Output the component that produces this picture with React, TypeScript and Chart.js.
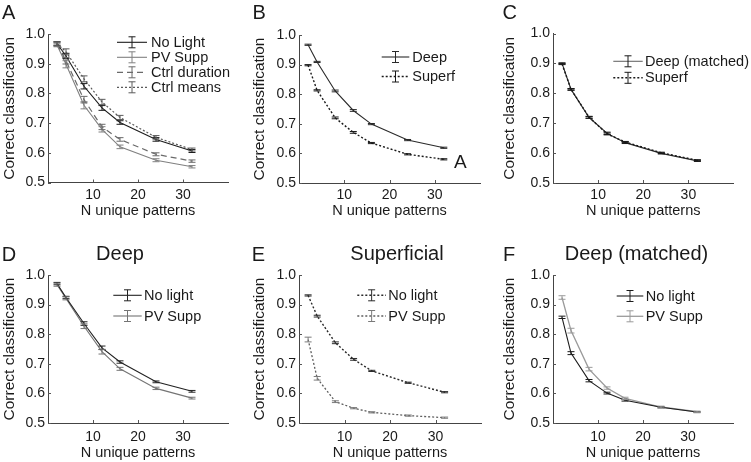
import React, { useEffect, useRef } from 'react';
import { Chart, registerables } from 'chart.js';

Chart.register(...registerables);

const FONT = '"Liberation Sans", Arial, Helvetica, sans-serif';

// ---- shared axes ----
const patterns = [2, 4, 8, 12, 16, 24, 32];
const xTicks = [10, 20, 30];
const yTicks = [0.5, 0.6, 0.7, 0.8, 0.9, 1.0];
const xLabel = 'N unique patterns';
const yLabel = 'Correct classification';

// ---- Panel A ----
const aNoLight = [0.968, 0.926, 0.824, 0.751, 0.702, 0.645, 0.606];
const aNoLightErr = [0.006, 0.009, 0.009, 0.008, 0.006, 0.006, 0.005];
const aPvSupp = [0.963, 0.898, 0.760, 0.679, 0.620, 0.575, 0.553];
const aPvSuppErr = [0.006, 0.012, 0.012, 0.009, 0.006, 0.005, 0.004];
const aCtrlDur = [0.965, 0.910, 0.779, 0.687, 0.645, 0.595, 0.572];
const aCtrlDurErr = [0.006, 0.011, 0.011, 0.009, 0.006, 0.005, 0.004];
const aCtrlMeans = [0.968, 0.940, 0.849, 0.771, 0.719, 0.652, 0.611];
const aCtrlMeansErr = [0.006, 0.010, 0.010, 0.009, 0.007, 0.006, 0.005];

// ---- Panel B ----
const bDeep = [0.967, 0.909, 0.811, 0.745, 0.699, 0.645, 0.619];
const bDeepErr = [0.002, 0.002, 0.003, 0.003, 0.002, 0.002, 0.002];
const bSuperf = [0.898, 0.813, 0.720, 0.671, 0.635, 0.597, 0.580];
const bSuperfErr = [0.002, 0.002, 0.003, 0.003, 0.002, 0.002, 0.002];

// ---- Panel C ----
const cDeepMatched = [0.900, 0.813, 0.719, 0.666, 0.635, 0.599, 0.574];
const cDeepMatchedErr = [0.002, 0.003, 0.003, 0.004, 0.003, 0.002, 0.002];
const cSuperf = [0.898, 0.813, 0.720, 0.664, 0.637, 0.601, 0.576];
const cSuperfErr = [0.002, 0.002, 0.003, 0.003, 0.002, 0.002, 0.002];

// ---- Panel D ----
const dNoLight = [0.971, 0.924, 0.836, 0.754, 0.706, 0.639, 0.607];
const dNoLightErr = [0.004, 0.004, 0.006, 0.006, 0.004, 0.003, 0.003];
const dPvSupp = [0.967, 0.921, 0.827, 0.741, 0.683, 0.617, 0.584];
const dPvSuppErr = [0.005, 0.005, 0.008, 0.008, 0.005, 0.004, 0.003];

// ---- Panel E ----
const eNoLight = [0.931, 0.861, 0.771, 0.715, 0.676, 0.636, 0.604];
const eNoLightErr = [0.002, 0.003, 0.003, 0.003, 0.002, 0.002, 0.002];
const ePvSupp = [0.782, 0.651, 0.572, 0.550, 0.536, 0.525, 0.518];
const ePvSuppErr = [0.008, 0.006, 0.003, 0.002, 0.002, 0.002, 0.002];

// ---- Panel F ----
const fNoLight = [0.857, 0.736, 0.643, 0.601, 0.577, 0.553, 0.537];
const fNoLightErr = [0.004, 0.005, 0.004, 0.003, 0.003, 0.002, 0.002];
const fPvSupp = [0.924, 0.812, 0.682, 0.618, 0.583, 0.554, 0.538];
const fPvSuppErr = [0.006, 0.008, 0.006, 0.004, 0.004, 0.003, 0.002];

type Series = {
  label: string;
  data: number[];
  err: number[];
  color: string;
  errColor?: string;
  legendColor?: string;
  dash: number[];
  width: number;
};

type Extra = { text: string; x: number; y: number; size: number };

type PanelCfg = {
  key: string;
  ox: number;
  oy: number;
  w: number;
  h: number;
  area: [number, number, number, number];
  tickPad: number;
  xTitlePad: number;
  letter: string;
  letterX: number;
  letterY: number;
  title?: string;
  titleX?: number;
  titleY?: number;
  legend: { x1: number; x2: number; tx: number; rows: number[] };
  series: Series[];
  extra?: Extra[];
};

const BLACK = '#1c1c1c';
const GRAY = '#808080';

const panels: PanelCfg[] = [
  {
    key: 'A', ox: 0, oy: 0, w: 250, h: 231,
    area: [48, 34, 228, 182.5], tickPad: 4, xTitlePad: 11.5,
    letter: 'A', letterX: 2, letterY: 18.5,
    legend: { x1: 117, x2: 147, tx: 151, rows: [42.3, 57.3, 72.3, 87.3] },
    series: [
      { label: 'No Light', data: aNoLight, err: aNoLightErr, color: BLACK, dash: [], width: 1.1 },
      { label: 'PV Supp', data: aPvSupp, err: aPvSuppErr, color: GRAY, dash: [], width: 1.1 },
      { label: 'Ctrl duration', data: aCtrlDur, err: aCtrlDurErr, color: '#6a6a6a', dash: [6, 4], width: 1.2 },
      { label: 'Ctrl means', data: aCtrlMeans, err: aCtrlMeansErr, color: '#5a5a5a', dash: [2, 2], width: 1.2 },
    ],
  },
  {
    key: 'B', ox: 250, oy: 0, w: 250, h: 231,
    area: [299, 35, 480, 183], tickPad: 4, xTitlePad: 11.5,
    letter: 'B', letterX: 252.5, letterY: 18.5,
    legend: { x1: 381.7, x2: 409.3, tx: 412.3, rows: [57, 76.5] },
    series: [
      { label: 'Deep', data: bDeep, err: bDeepErr, color: '#2a2a2a', dash: [], width: 1.1 },
      { label: 'Superf', data: bSuperf, err: bSuperfErr, color: '#1a1a1a', dash: [2, 2], width: 1.4 },
    ],
    extra: [{ text: 'A', x: 454, y: 168, size: 19 }],
  },
  {
    key: 'C', ox: 500, oy: 0, w: 251, h: 231,
    area: [553, 33.5, 733.5, 183], tickPad: 4, xTitlePad: 11.5,
    letter: 'C', letterX: 502.5, letterY: 18.5,
    legend: { x1: 613.3, x2: 642.7, tx: 645, rows: [61.3, 77.8] },
    series: [
      { label: 'Superf', data: cSuperf, err: cSuperfErr, color: '#1a1a1a', dash: [2, 2], width: 1.4 },
      { label: 'Deep (matched)', data: cDeepMatched, err: cDeepMatchedErr, color: '#2a2a2a', legendColor: '#6a6a6a', errColor: '#1a1a1a', dash: [], width: 1.1 },
    ],
  },
  {
    key: 'D', ox: 0, oy: 231, w: 250, h: 231,
    area: [48, 275, 228, 423], tickPad: 5.5, xTitlePad: 0.5,
    letter: 'D', letterX: 1.7, letterY: 261,
    title: 'Deep', titleX: 120, titleY: 259.5,
    legend: { x1: 113.3, x2: 141.7, tx: 144, rows: [295.3, 316] },
    series: [
      { label: 'No light', data: dNoLight, err: dNoLightErr, color: '#222222', dash: [], width: 1.1 },
      { label: 'PV Supp', data: dPvSupp, err: dPvSuppErr, color: '#747474', dash: [], width: 1.1 },
    ],
  },
  {
    key: 'E', ox: 250, oy: 231, w: 250, h: 231,
    area: [299, 275, 481, 423], tickPad: 5.5, xTitlePad: 0.5,
    letter: 'E', letterX: 251.7, letterY: 261,
    title: 'Superficial', titleX: 397, titleY: 259.5,
    legend: { x1: 357.3, x2: 386, tx: 388.3, rows: [295.3, 316] },
    series: [
      { label: 'No light', data: eNoLight, err: eNoLightErr, color: '#2a2a2a', dash: [2, 2], width: 1.4 },
      { label: 'PV Supp', data: ePvSupp, err: ePvSuppErr, color: '#5e5e5e', errColor: '#7a7a7a', dash: [2, 2], width: 1.3 },
    ],
  },
  {
    key: 'F', ox: 500, oy: 231, w: 251, h: 231,
    area: [553, 275, 733, 423], tickPad: 5.5, xTitlePad: 0.5,
    letter: 'F', letterX: 503, letterY: 261,
    title: 'Deep (matched)', titleX: 636.5, titleY: 259.5,
    legend: { x1: 616.7, x2: 643.3, tx: 645.7, rows: [296, 316.3] },
    series: [
      { label: 'No light', data: fNoLight, err: fNoLightErr, color: '#1c1c1c', dash: [], width: 1.1 },
      { label: 'PV Supp', data: fPvSupp, err: fPvSuppErr, color: '#9a9a9a', dash: [], width: 1.3 },
    ],
  },
];

function legendOrder(cfg: PanelCfg): Series[] {
  if (cfg.key === 'C') return [cfg.series[1], cfg.series[0]];
  return cfg.series;
}

function Panel({ cfg }: { cfg: PanelCfg }) {
  const ref = useRef<HTMLCanvasElement | null>(null);

  useEffect(() => {
    const canvas = ref.current;
    if (!canvas) return;
    const [l, t, r, b] = cfg.area;
    const lx = (x: number) => x - cfg.ox;
    const ly = (y: number) => y - cfg.oy;

    const deco = {
      id: 'deco' + cfg.key,
      afterDatasetsDraw(chart: any) {
        const ctx = chart.ctx;
        const xs = chart.scales.x;
        const ys = chart.scales.y;
        ctx.save();
        cfg.series.forEach((s) => {
          ctx.strokeStyle = s.errColor || s.color;
          ctx.lineWidth = 1;
          ctx.setLineDash([]);
          patterns.forEach((p, j) => {
            const px = xs.getPixelForValue(p);
            const y1 = ys.getPixelForValue(s.data[j] + s.err[j]);
            const y2 = ys.getPixelForValue(s.data[j] - s.err[j]);
            ctx.beginPath();
            ctx.moveTo(px, y1);
            ctx.lineTo(px, y2);
            ctx.moveTo(px - 3.5, y1);
            ctx.lineTo(px + 3.5, y1);
            ctx.moveTo(px - 3.5, y2);
            ctx.lineTo(px + 3.5, y2);
            ctx.stroke();
          });
        });
        ctx.restore();
      },
      afterDraw(chart: any) {
        const ctx = chart.ctx;
        const xs = chart.scales.x;
        const ys = chart.scales.y;
        const ca = chart.chartArea;
        ctx.save();
        // inward tick marks
        ctx.strokeStyle = '#555';
        ctx.lineWidth = 1;
        ctx.beginPath();
        xTicks.forEach((v) => {
          const px = Math.round(xs.getPixelForValue(v)) + 0.5;
          ctx.moveTo(px, ca.bottom);
          ctx.lineTo(px, ca.bottom - 3);
        });
        yTicks.forEach((v) => {
          const py = Math.round(ys.getPixelForValue(v)) + 0.5;
          ctx.moveTo(ca.left, py);
          ctx.lineTo(ca.left + 3, py);
        });
        ctx.stroke();

        // legend
        const lg = cfg.legend;
        const order = legendOrder(cfg);
        order.forEach((s, i) => {
          const y = ly(lg.rows[i]);
          const x1 = lx(lg.x1);
          const x2 = lx(lg.x2);
          const xm = (x1 + x2) / 2;
          ctx.strokeStyle = s.legendColor || s.color;
          ctx.lineWidth = s.width;
          ctx.setLineDash(s.dash);
          ctx.beginPath();
          ctx.moveTo(x1, y);
          ctx.lineTo(x2, y);
          ctx.stroke();
          ctx.setLineDash([]);
          ctx.lineWidth = 1;
          ctx.strokeStyle = s.errColor || s.color;
          ctx.beginPath();
          ctx.moveTo(xm, y - 5.5);
          ctx.lineTo(xm, y + 5.5);
          ctx.moveTo(xm - 3.5, y - 5.5);
          ctx.lineTo(xm + 3.5, y - 5.5);
          ctx.moveTo(xm - 3.5, y + 5.5);
          ctx.lineTo(xm + 3.5, y + 5.5);
          ctx.stroke();
          ctx.fillStyle = '#1a1a1a';
          ctx.font = `14.5px ${FONT}`;
          ctx.textAlign = 'left';
          ctx.textBaseline = 'middle';
          ctx.fillText(s.label, lx(lg.tx), y + 0.5);
        });

        // panel letter
        ctx.fillStyle = '#1a1a1a';
        ctx.font = `20px ${FONT}`;
        ctx.textAlign = 'left';
        ctx.textBaseline = 'alphabetic';
        ctx.fillText(cfg.letter, lx(cfg.letterX), ly(cfg.letterY));

        // title
        if (cfg.title) {
          ctx.font = `20px ${FONT}`;
          ctx.textAlign = 'center';
          ctx.fillText(cfg.title, lx(cfg.titleX!), ly(cfg.titleY!));
        }

        // extra text
        (cfg.extra || []).forEach((e) => {
          ctx.font = `${e.size}px ${FONT}`;
          ctx.textAlign = 'left';
          ctx.fillText(e.text, lx(e.x), ly(e.y));
        });
        ctx.restore();
      },
    };

    const chart = new Chart(canvas, {
      type: 'line',
      data: {
        datasets: cfg.series.map((s) => ({
          label: s.label,
          data: patterns.map((p, i) => ({ x: p, y: s.data[i] })),
          borderColor: s.color,
          borderWidth: s.width,
          borderDash: s.dash,
          pointRadius: 0,
          fill: false,
          tension: 0,
        })),
      },
      options: {
        responsive: false,
        animation: false,
        devicePixelRatio: 1,
        layout: {
          padding: { left: 0, top: ly(t), right: cfg.ox + cfg.w - r, bottom: 0 },
        },
        plugins: {
          legend: { display: false },
          tooltip: { enabled: false },
        },
        scales: {
          x: {
            type: 'linear',
            min: 0,
            max: 40,
            afterBuildTicks: (s: any) => {
              s.ticks = xTicks.map((v) => ({ value: v }));
            },
            afterFit: (s: any) => {
              s.height = cfg.oy + cfg.h - b;
            },
            grid: { display: false, drawTicks: false },
            border: { display: true, color: '#444', width: 1 },
            ticks: {
              font: { family: FONT, size: 14 },
              color: '#1a1a1a',
              padding: cfg.tickPad,
              maxRotation: 0,
              callback: (v: any) => String(v),
            },
            title: {
              display: true,
              text: xLabel,
              color: '#1a1a1a',
              font: { family: FONT, size: 14.5 },
              padding: { top: 0, bottom: cfg.xTitlePad },
            },
          },
          y: {
            type: 'linear',
            min: 0.5,
            max: 1.0,
            afterBuildTicks: (s: any) => {
              s.ticks = yTicks.map((v) => ({ value: v }));
            },
            afterFit: (s: any) => {
              s.width = l - cfg.ox;
            },
            grid: { display: false, drawTicks: false },
            border: { display: true, color: '#444', width: 1 },
            ticks: {
              font: { family: FONT, size: 14 },
              color: '#1a1a1a',
              padding: 3,
              callback: (v: any) => Number(v).toFixed(1),
            },
            title: {
              display: true,
              text: yLabel,
              color: '#1a1a1a',
              font: { family: FONT, size: 15.5 },
              padding: { top: 0, bottom: 0 },
            },
          },
        },
      },
      plugins: [deco],
    } as any);

    return () => chart.destroy();
  }, [cfg]);

  return (
    <canvas
      ref={ref}
      width={cfg.w}
      height={cfg.h}
      style={{
        position: 'absolute',
        left: cfg.ox,
        top: cfg.oy,
        width: cfg.w,
        height: cfg.h,
        display: 'block',
      }}
    />
  );
}

export default function App() {
  return (
    <div
      style={{
        position: 'absolute',
        left: 0,
        top: 0,
        width: 751,
        height: 462,
        background: '#ffffff',
        overflow: 'hidden',
      }}
    >
      {panels.map((p) => (
        <Panel key={p.key} cfg={p} />
      ))}
    </div>
  );
}
